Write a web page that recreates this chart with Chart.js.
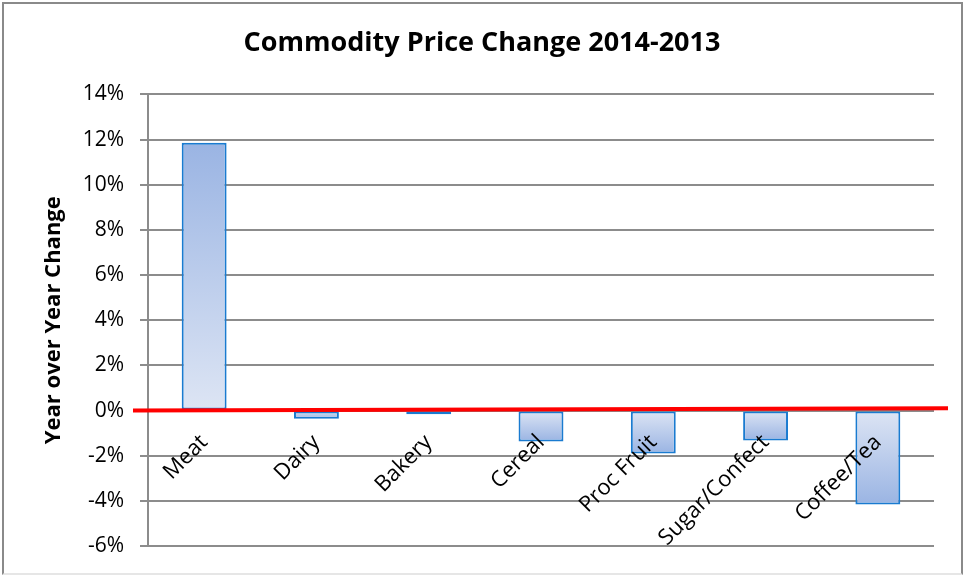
<!DOCTYPE html>
<html>
<head>
<meta charset="utf-8">
<script src="https://cdn.jsdelivr.net/npm/chart.js@4.4.1/dist/chart.umd.min.js"></script>
<style>
    html, body { margin: 0; padding: 0; background: #ffffff; }
    #wrap { position: relative; width: 964px; height: 575px; }
    #frame {
        position: absolute; left: 2px; top: 2px; right: 1px; bottom: 0;
        border: 2px solid #8a8a8a; border-bottom: 2px solid #e6e6e6;
        pointer-events: none;
    }
    canvas { position: absolute; left: 0; top: 0; }
</style>
</head>
<body>
<div id="wrap">
    <canvas id="priceChart" width="964" height="575"></canvas>
    <div id="frame"></div>
</div>
<script>
const categories = ['Meat', 'Dairy', 'Bakery', 'Cereal', 'Proc Fruit', 'Sugar/Confect', 'Coffee/Tea'];
const priceChange = [11.86, -0.37, -0.17, -1.37, -1.9, -1.33, -4.16];
const yTicks = [-6, -4, -2, 0, 2, 4, 6, 8, 10, 12, 14];
// zero marker: value at the left end, value at the right end
const zeroLine = [0, 0.1];

const FONT = '"Open Sans", "Noto Sans", sans-serif';

const zeroLinePlugin = {
    id: 'zeroLine',
    afterDatasetsDraw(chart) {
        const { ctx, chartArea, scales } = chart;
        const y = scales.y;
        ctx.save();
        ctx.strokeStyle = '#ff0000';
        ctx.lineWidth = 4;
        ctx.beginPath();
        ctx.moveTo(chartArea.left - 15, y.getPixelForValue(zeroLine[0]));
        ctx.lineTo(chartArea.right + 14, y.getPixelForValue(zeroLine[1]));
        ctx.stroke();
        ctx.restore();
    }
};

function barGradient(context) {
    const { chart, parsed } = context;
    if (!chart.chartArea || !parsed) {
        return '#c3d2ee';
    }
    const y = chart.scales.y;
    const g = chart.ctx.createLinearGradient(0, y.getPixelForValue(0), 0, y.getPixelForValue(parsed.y));
    g.addColorStop(0, '#dde5f4');
    g.addColorStop(1, '#9ab4e3');
    return g;
}

new Chart(document.getElementById('priceChart').getContext('2d'), {
    type: 'bar',
    data: {
        labels: categories,
        datasets: [{
            data: priceChange,
            backgroundColor: barGradient,
            borderColor: '#1a7bd0',
            borderWidth: 2,
            borderSkipped: false,
            barPercentage: 0.5,
            categoryPercentage: 0.8
        }]
    },
    options: {
        responsive: false,
        animation: false,
        devicePixelRatio: 1,
        layout: {
            padding: { left: 0, right: 0, top: 0, bottom: 29 }
        },
        plugins: {
            legend: { display: false },
            tooltip: { enabled: false },
            title: {
                display: true,
                text: 'Commodity Price Change 2014-2013',
                color: '#000000',
                font: { family: FONT, size: 27, weight: 'bold' },
                padding: { top: 27, bottom: 35 }
            }
        },
        scales: {
            x: {
                position: { y: 0 },
                grid: { display: false },
                border: { display: false },
                ticks: {
                    // labels sit on top of the bars
                    z: 1,
                    color: '#000000',
                    font: { family: FONT, size: 22 },
                    minRotation: 45,
                    maxRotation: 45,
                    padding: 11
                }
            },
            y: {
                min: -6,
                max: 14,
                afterBuildTicks: (scale) => {
                    scale.ticks = yTicks.map((value) => ({ value }));
                },
                afterFit: (scale) => {
                    scale.width = 148;
                },
                ticks: {
                    color: '#000000',
                    font: { family: FONT, size: 21 },
                    padding: 16,
                    callback: (value) => `${value}%`
                },
                grid: {
                    color: '#8c8c8c',
                    lineWidth: 2,
                    tickLength: 8
                },
                border: {
                    display: true,
                    color: '#8c8c8c',
                    width: 2
                },
                title: {
                    display: true,
                    text: 'Year over Year Change',
                    color: '#000000',
                    font: { family: FONT, size: 22, weight: 'bold' },
                    padding: { top: 41, bottom: 0 }
                }
            },
            // empty right-hand margin so the title stays centred on the whole frame
            spacer: {
                type: 'linear',
                position: 'right',
                grid: { display: false },
                border: { display: false },
                ticks: { display: false },
                afterFit: (scale) => {
                    scale.width = 30;
                }
            }
        }
    },
    plugins: [zeroLinePlugin]
});
</script>
</body>
</html>
